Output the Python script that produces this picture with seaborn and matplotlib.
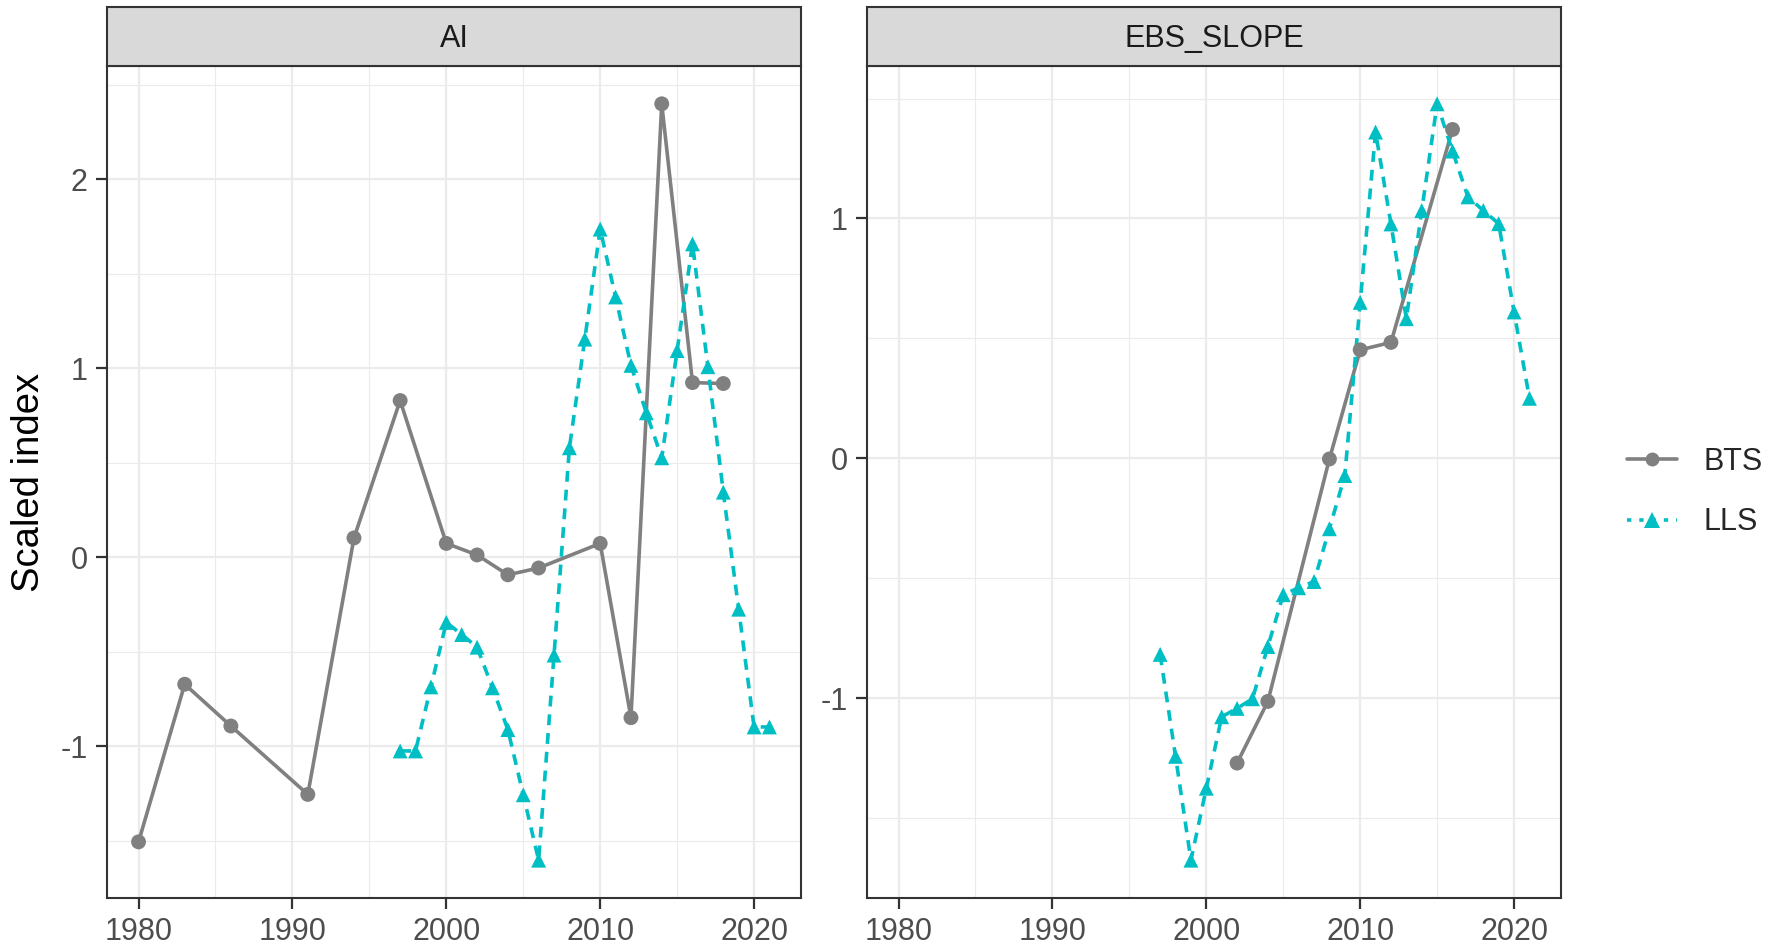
import numpy as np
import pandas as pd
import seaborn as sns
import matplotlib.pyplot as plt
from matplotlib.lines import Line2D
from matplotlib.patches import Rectangle

# --- data ---
ai_bts_year = [1980, 1983, 1986, 1991, 1994, 1997, 2000, 2002, 2004, 2006, 2010, 2012, 2014, 2016, 2018]
ai_bts_index = [-1.505, -0.671, -0.892, -1.254, 0.103, 0.83, 0.074, 0.013, -0.092, -0.056, 0.074, -0.848, 2.40, 0.925, 0.92]

ai_lls_year = list(range(1997, 2022))
ai_lls_index = [-1.024, -1.024, -0.685, -0.344, -0.408, -0.475, -0.690, -0.911, -1.256, -1.602,
                -0.517, 0.58, 1.155, 1.737, 1.378, 1.016, 0.765, 0.527, 1.094, 1.659,
                1.009, 0.345, -0.274, -0.897, -0.897]

ebs_bts_year = [2002, 2004, 2008, 2010, 2012, 2016]
ebs_bts_index = [-1.271, -1.014, -0.003, 0.452, 0.483, 1.371]

ebs_lls_year = list(range(1997, 2022))
ebs_lls_index = [-0.818, -1.243, -1.676, -1.376, -1.078, -1.043, -1.003, -0.785, -0.569, -0.540,
                 -0.514, -0.294, -0.072, 0.650, 1.360, 0.977, 0.582, 1.033, 1.478, 1.281,
                 1.090, 1.033, 0.978, 0.610, 0.250]

regions = ["AI", "EBS_SLOPE"]
surveys = ["BTS", "LLS"]
colors = {"BTS": "#808080", "LLS": "#00BFC4"}

frames = [
    pd.DataFrame({"region": "AI", "survey": "BTS", "year": ai_bts_year, "index": ai_bts_index}),
    pd.DataFrame({"region": "AI", "survey": "LLS", "year": ai_lls_year, "index": ai_lls_index}),
    pd.DataFrame({"region": "EBS_SLOPE", "survey": "BTS", "year": ebs_bts_year, "index": ebs_bts_index}),
    pd.DataFrame({"region": "EBS_SLOPE", "survey": "LLS", "year": ebs_lls_year, "index": ebs_lls_index}),
]
df = pd.concat(frames, ignore_index=True)

sns.set_theme(style="white")
plt.rcParams['font.family'] = ['Liberation Sans', 'DejaVu Sans']
plt.rcParams['axes.unicode_minus'] = False

W, H = 1779, 944
fig = plt.figure(figsize=(W / 100, H / 100), dpi=100)

panel_left = [107, 867]
panel_w = 694
panel_top, panel_bot = 66, 898
strip_h = 59

lw = 2.6
dash = (3.0, 2.2)

xmin, xmax = df["year"].min(), df["year"].max()
xpad = (xmax - xmin) * 0.05

for i, reg in enumerate(regions):
    ax = fig.add_axes([panel_left[i] / W, 1 - panel_bot / H, panel_w / W, (panel_bot - panel_top) / H])
    sub = df[df["region"] == reg]

    # lines first, then points (as in ggplot)
    sns.lineplot(data=sub, x="year", y="index", hue="survey", style="survey",
                 hue_order=surveys, style_order=surveys, palette=colors,
                 dashes={"BTS": "", "LLS": dash}, markers=False,
                 linewidth=lw, legend=False, ax=ax, errorbar=None, zorder=3)
    sns.scatterplot(data=sub, x="year", y="index", hue="survey", style="survey",
                    hue_order=surveys, style_order=surveys, palette=colors,
                    markers={"BTS": "o", "LLS": "^"}, s=115, linewidth=0,
                    legend=False, ax=ax, zorder=4)

    ymin, ymax = sub["index"].min(), sub["index"].max()
    ypad = (ymax - ymin) * 0.05

    ax.set_xticks([1980, 1990, 2000, 2010, 2020])
    ax.set_xticks([1975, 1985, 1995, 2005, 2015, 2025], minor=True)
    if reg == "AI":
        ax.set_yticks([-1, 0, 1, 2])
        ax.set_yticks([-1.5, -0.5, 0.5, 1.5, 2.5], minor=True)
    else:
        ax.set_yticks([-1, 0, 1])
        ax.set_yticks([-1.5, -0.5, 0.5, 1.5], minor=True)
    ax.set_xlim(xmin - xpad, xmax + xpad)
    ax.set_ylim(ymin - ypad, ymax + ypad)

    ax.grid(which="major", color="#EBEBEB", linewidth=1.6, zorder=0)
    ax.grid(which="minor", color="#EBEBEB", linewidth=0.8, zorder=0)
    ax.set_axisbelow(True)
    ax.tick_params(which="major", direction="out", length=8, width=1.6, color="#333333",
                   labelsize=22, labelcolor="#4D4D4D", pad=6, left=True, bottom=True)
    ax.tick_params(which="minor", length=0)
    ax.set_xlabel("")
    ax.set_ylabel("")
    for sp in ax.spines.values():
        sp.set_edgecolor("#333333")
        sp.set_linewidth(1.5)
        sp.set_zorder(5)

    # facet strip
    sh = strip_h / (panel_bot - panel_top)
    ax.add_patch(Rectangle((0, 1), 1, sh, transform=ax.transAxes, facecolor="#D9D9D9",
                           edgecolor="#333333", linewidth=1.5, clip_on=False, zorder=6))
    ax.text(0.5, 1 + sh / 2 - 3 / (panel_bot - panel_top), reg, transform=ax.transAxes,
            ha="center", va="center", fontsize=22, color="#1A1A1A", zorder=7)

fig.text(29 / W, 1 - 482 / H, "Scaled index", rotation=90, ha="center", va="center",
         fontsize=27.5, color="black")

handles = [
    Line2D([], [], color=colors["BTS"], linewidth=lw, marker="o", markersize=10,
           markeredgewidth=0),
    Line2D([], [], color=colors["LLS"], linewidth=lw, linestyle=(0, (1.2, 2.2)), marker="^",
           markersize=11, markeredgewidth=0),
]
fig.legend(handles, surveys, loc="center left", bbox_to_anchor=(1627 / W, 1 - 492 / H),
           frameon=False, fontsize=22, handlelength=1.65, handletextpad=0.85,
           labelspacing=1.0, borderpad=0, borderaxespad=0)

fig.savefig("out.png", dpi=100)
